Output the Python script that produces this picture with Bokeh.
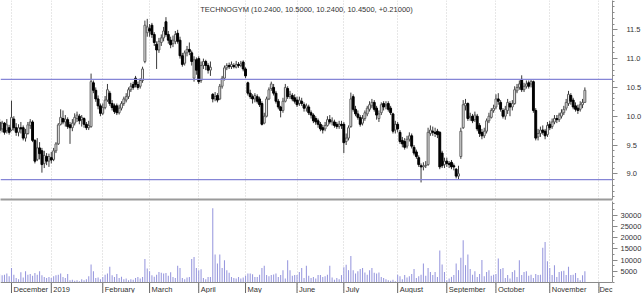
from bokeh.plotting import figure
from bokeh.layouts import column
from bokeh.models import (Range1d, FixedTicker, Span, Label, ColumnDataSource,
                          NumeralTickFormatter, LinearAxis)
from bokeh.core.properties import value
from bokeh.embed import file_html
from bokeh.resources import INLINE

# ---------------- data (trading-day index 0 = 26 Nov 2018) ----------------
title_text = "TECHNOGYM (10.2400, 10.5000, 10.2400, 10.4500, +0.21000)"

open_ = [
    9.90, 9.78, 9.88, 9.75, 9.80, 9.76, 9.95, 9.80, 9.72, 9.80,
    9.80, 9.62, 9.70, 9.84, 9.90, 9.58, 9.25, 9.45, 9.40, 9.18,
    9.30, 9.22, 9.28, 9.25, 9.40, 9.52, 9.86, 9.96, 9.90, 9.94,
    9.85, 9.80, 9.88, 9.96, 10.00, 9.94, 9.96, 9.86, 9.80, 9.82,
    10.58, 10.45, 10.30, 10.18, 10.05, 10.15, 10.28, 10.40, 10.22, 10.18,
    10.18, 10.06, 10.14, 10.22, 10.28, 10.34, 10.46, 10.55, 10.66, 10.55,
    10.52, 10.62, 10.95, 11.45, 11.52, 11.58, 11.42, 11.25, 11.15, 11.28,
    11.36, 11.64, 11.42, 11.32, 11.26, 11.30, 11.44, 11.32, 11.05, 10.92,
    11.10, 11.16, 11.10, 10.66, 10.98, 11.00, 10.62, 10.88, 10.95, 10.88,
    10.80, 10.38, 10.30, 10.36, 10.30, 10.52, 10.66, 10.84, 10.88, 10.86,
    10.88, 10.85, 10.90, 10.88, 10.94, 10.82, 10.58, 10.40, 10.34, 10.30,
    10.34, 10.30, 10.22, 9.88, 10.00, 10.30, 10.48, 10.50, 10.40, 10.26,
    10.16, 10.10, 10.26, 10.48, 10.34, 10.36, 10.32, 10.28, 10.22, 10.26,
    10.20, 10.14, 10.16, 10.06, 10.02, 9.96, 9.92, 9.86, 9.80, 9.78,
    9.84, 9.94, 9.90, 9.90, 9.86, 9.82, 9.86, 9.86, 9.56, 9.62,
    9.82, 10.34, 10.12, 10.04, 9.98, 9.88, 9.96, 10.04, 10.12, 10.18,
    10.24, 10.14, 9.96, 10.06, 10.22, 10.18, 10.22, 10.14, 10.04, 9.76,
    9.86, 9.72, 9.58, 9.56, 9.48, 9.60, 9.66, 9.46, 9.38, 9.28,
    9.14, 9.12, 9.14, 9.16, 9.70, 9.74, 9.72, 9.74, 9.72, 9.36,
    9.16, 9.22, 9.18, 9.20, 9.14, 9.08, 8.96, 9.30, 9.80, 10.18,
    10.22, 9.98, 10.00, 9.94, 10.00, 9.84, 9.72, 9.66, 9.74, 9.92,
    9.98, 10.10, 10.16, 10.30, 10.24, 10.10, 10.00, 10.10, 10.22, 10.16,
    10.22, 10.44, 10.50, 10.64, 10.46, 10.52, 10.58, 10.56, 10.60, 10.10,
    9.64, 9.70, 9.76, 9.74, 9.68, 9.86, 9.82, 9.90, 9.96, 9.94,
    10.00, 10.06, 10.14, 10.22, 10.36, 10.28, 10.18, 10.14, 10.12, 10.20, 10.24,
]
high = [
    9.95, 9.92, 9.90, 9.95, 9.85, 10.27, 10.00, 9.88, 9.86, 9.90,
    9.84, 9.78, 9.90, 9.95, 9.93, 9.60, 9.62, 9.55, 9.45, 9.40,
    9.36, 9.35, 9.38, 9.45, 9.55, 9.88, 10.12, 10.10, 10.02, 9.98,
    9.90, 9.95, 10.05, 10.08, 10.04, 10.02, 9.98, 9.90, 9.92, 10.74,
    10.62, 10.50, 10.36, 10.22, 10.22, 10.35, 10.56, 10.44, 10.28, 10.22,
    10.22, 10.20, 10.26, 10.34, 10.40, 10.50, 10.58, 10.60, 10.70, 10.60,
    10.66, 10.86, 11.66, 11.69, 11.60, 11.62, 11.46, 11.30, 11.36, 11.42,
    11.55, 11.72, 11.48, 11.38, 11.40, 11.48, 11.50, 11.38, 11.10, 11.14,
    11.22, 11.28, 11.14, 11.04, 11.02, 11.04, 10.95, 11.00, 10.98, 10.92,
    10.95, 10.40, 10.42, 10.40, 10.56, 10.70, 10.88, 10.92, 10.93, 10.95,
    10.92, 10.96, 10.94, 10.96, 10.97, 10.85, 10.60, 10.46, 10.38, 10.40,
    10.38, 10.34, 10.26, 10.06, 10.34, 10.50, 10.60, 10.56, 10.44, 10.30,
    10.18, 10.32, 10.56, 10.52, 10.44, 10.40, 10.38, 10.34, 10.34, 10.32,
    10.24, 10.22, 10.20, 10.10, 10.05, 10.00, 9.96, 9.90, 9.85, 9.90,
    10.00, 10.02, 9.98, 9.94, 9.90, 9.92, 9.92, 9.90, 9.70, 9.84,
    10.41, 10.38, 10.18, 10.10, 10.02, 10.02, 10.10, 10.18, 10.26, 10.30,
    10.28, 10.18, 10.10, 10.24, 10.26, 10.26, 10.26, 10.18, 10.06, 9.92,
    9.90, 9.76, 9.64, 9.62, 9.66, 9.72, 9.70, 9.50, 9.42, 9.32,
    9.18, 9.20, 9.22, 9.80, 9.84, 9.82, 9.80, 9.78, 9.74, 9.40,
    9.28, 9.28, 9.22, 9.24, 9.18, 9.10, 9.14, 9.80, 10.28, 10.30,
    10.24, 10.06, 10.04, 10.08, 10.04, 9.88, 9.78, 9.80, 9.96, 10.06,
    10.14, 10.20, 10.38, 10.40, 10.28, 10.14, 10.18, 10.30, 10.26, 10.28,
    10.52, 10.56, 10.62, 10.71, 10.58, 10.62, 10.62, 10.64, 10.62, 10.14,
    9.78, 9.82, 9.84, 9.78, 9.90, 9.92, 9.96, 10.02, 10.02, 10.06,
    10.12, 10.18, 10.30, 10.44, 10.40, 10.32, 10.24, 10.20, 10.26, 10.30, 10.50,
]
low = [
    9.70, 9.72, 9.68, 9.70, 9.68, 9.74, 9.75, 9.66, 9.65, 9.70,
    9.58, 9.56, 9.68, 9.78, 9.55, 9.18, 9.22, 9.25, 9.02, 9.10,
    9.15, 9.12, 9.18, 9.22, 9.36, 9.50, 9.84, 9.86, 9.82, 9.78,
    9.52, 9.74, 9.84, 9.90, 9.86, 9.82, 9.80, 9.76, 9.76, 9.80,
    10.40, 10.25, 10.12, 10.00, 10.02, 10.12, 10.25, 10.18, 10.10, 10.04,
    10.02, 10.03, 10.10, 10.18, 10.24, 10.30, 10.42, 10.46, 10.50, 10.46,
    10.48, 10.58, 10.92, 11.38, 11.38, 11.36, 11.22, 10.82, 11.10, 11.22,
    11.30, 11.38, 11.26, 11.18, 11.20, 11.25, 11.26, 11.00, 10.86, 10.88,
    11.04, 11.06, 10.88, 10.60, 10.72, 10.56, 10.58, 10.82, 10.80, 10.74,
    10.70, 10.24, 10.26, 10.24, 10.28, 10.48, 10.62, 10.80, 10.82, 10.82,
    10.83, 10.83, 10.84, 10.85, 10.78, 10.66, 10.36, 10.30, 10.22, 10.24,
    10.22, 10.16, 9.84, 9.86, 9.98, 10.28, 10.44, 10.36, 10.22, 10.12,
    9.98, 10.06, 10.24, 10.30, 10.30, 10.26, 10.22, 10.16, 10.18, 10.18,
    10.08, 10.08, 10.02, 9.96, 9.88, 9.85, 9.80, 9.74, 9.70, 9.74,
    9.82, 9.86, 9.84, 9.80, 9.78, 9.78, 9.78, 9.36, 9.50, 9.58,
    9.80, 10.08, 10.00, 9.94, 9.82, 9.84, 9.92, 10.00, 10.08, 10.14,
    10.08, 9.94, 9.90, 10.02, 10.10, 10.12, 10.08, 10.02, 9.70, 9.70,
    9.72, 9.52, 9.46, 9.42, 9.44, 9.56, 9.44, 9.32, 9.26, 9.12,
    8.85, 9.06, 9.10, 9.14, 9.66, 9.66, 9.64, 9.62, 9.08, 9.10,
    9.10, 9.12, 9.10, 9.08, 9.06, 8.92, 8.90, 9.26, 9.78, 10.10,
    9.92, 9.92, 9.88, 9.90, 9.74, 9.64, 9.60, 9.62, 9.70, 9.88,
    9.96, 10.06, 10.12, 10.20, 10.08, 9.96, 9.94, 10.04, 10.00, 10.10,
    10.20, 10.40, 10.46, 10.42, 10.42, 10.48, 10.48, 10.50, 10.06, 9.58,
    9.58, 9.64, 9.68, 9.60, 9.64, 9.76, 9.78, 9.86, 9.88, 9.90,
    9.96, 10.02, 10.10, 10.18, 10.20, 10.12, 10.08, 10.04, 10.08, 10.14, 10.24,
]
close_ = [
    9.75, 9.88, 9.72, 9.85, 9.72, 9.98, 9.80, 9.72, 9.80, 9.78,
    9.62, 9.70, 9.85, 9.90, 9.58, 9.22, 9.45, 9.35, 9.16, 9.32,
    9.22, 9.30, 9.24, 9.40, 9.52, 9.85, 9.98, 9.90, 9.95, 9.82,
    9.80, 9.88, 9.98, 10.02, 9.92, 9.98, 9.86, 9.80, 9.84, 10.60,
    10.45, 10.30, 10.18, 10.05, 10.15, 10.28, 10.46, 10.22, 10.15, 10.08,
    10.06, 10.14, 10.22, 10.30, 10.34, 10.46, 10.52, 10.50, 10.55, 10.50,
    10.62, 10.82, 11.58, 11.55, 11.48, 11.42, 11.28, 11.15, 11.30, 11.36,
    11.48, 11.42, 11.32, 11.24, 11.32, 11.42, 11.30, 11.05, 10.90, 11.10,
    11.16, 11.12, 10.95, 10.98, 10.80, 10.60, 10.88, 10.95, 10.88, 10.80,
    10.85, 10.30, 10.34, 10.28, 10.52, 10.66, 10.84, 10.88, 10.86, 10.90,
    10.86, 10.90, 10.88, 10.91, 10.82, 10.70, 10.40, 10.34, 10.30, 10.36,
    10.26, 10.20, 9.86, 10.00, 10.30, 10.46, 10.56, 10.40, 10.26, 10.16,
    10.10, 10.26, 10.50, 10.34, 10.38, 10.30, 10.26, 10.20, 10.28, 10.22,
    10.14, 10.18, 10.06, 10.02, 9.92, 9.90, 9.86, 9.78, 9.76, 9.84,
    9.94, 9.90, 9.92, 9.84, 9.82, 9.86, 9.84, 9.54, 9.62, 9.80,
    10.30, 10.12, 10.04, 9.98, 9.86, 9.96, 10.06, 10.14, 10.20, 10.24,
    10.12, 10.02, 10.04, 10.20, 10.16, 10.20, 10.12, 10.06, 9.74, 9.86,
    9.78, 9.56, 9.52, 9.46, 9.60, 9.66, 9.48, 9.36, 9.30, 9.16,
    9.12, 9.14, 9.15, 9.72, 9.76, 9.72, 9.70, 9.68, 9.12, 9.14,
    9.22, 9.18, 9.16, 9.12, 9.12, 8.96, 9.00, 9.74, 10.20, 10.22,
    9.96, 10.00, 9.92, 10.02, 9.78, 9.70, 9.66, 9.74, 9.92, 10.00,
    10.10, 10.14, 10.30, 10.26, 10.12, 10.00, 10.12, 10.24, 10.16, 10.22,
    10.46, 10.50, 10.56, 10.46, 10.52, 10.56, 10.52, 10.60, 10.10, 9.62,
    9.70, 9.76, 9.72, 9.66, 9.84, 9.80, 9.90, 9.96, 9.94, 10.02,
    10.06, 10.12, 10.24, 10.38, 10.26, 10.16, 10.12, 10.10, 10.20, 10.24, 10.45,
]
# volume in axis units (x100 shares)
volume = [
    3800, 3200, 3500, 4000, 2800, 6500, 3500, 2000, 1500, 4600,
    2200, 5000, 3500, 3800, 3000, 4200, 3500, 5000, 3200, 2500,
    2000, 2400, 2000, 2800, 3200, 3500, 4000, 2500, 2000, 3800,
    1000, 1200, 800, 1000, 600, 1500, 1000, 1400, 2800, 8000,
    5000, 2000, 2200, 1500, 2500, 3500, 4000, 7000, 3200, 2400,
    3800, 2000, 2600, 1400, 1800, 1000, 1500, 1200, 2000, 2500,
    1800, 2500, 10400, 6200, 5000, 3200, 2600, 3500, 4700, 4300,
    4000, 4200, 3000, 4600, 2500, 2000, 7400, 6500, 2000, 1500,
    2200, 2500, 10400, 11300, 6500, 5500, 5900, 2000, 1500, 2500,
    2500, 33000, 12400, 8400, 12400, 6500, 9900, 5500, 4300, 2500,
    2000, 1800, 2400, 1800, 2200, 3000, 4000, 4000, 3700, 2500,
    2500, 3500, 6500, 7400, 3300, 2800, 3300, 3600, 4000, 2500,
    3300, 5500, 1800, 9900, 5500, 3000, 3300, 3300, 4700, 6500,
    2000, 7400, 3000, 2000, 2500, 1800, 3300, 3300, 2500, 2800,
    3500, 7400, 2200, 1200, 2000, 1500, 3300, 6800, 7900, 5500,
    11800, 5500, 4000, 5000, 6000, 6500, 4500, 3500, 5500, 6500,
    4300, 4000, 4500, 2500, 2000, 1500, 1000, 800, 1200, 600,
    3500, 2800, 1500, 3300, 2200, 2800, 3800, 6000, 2000, 2800,
    3500, 8400, 3000, 6500, 4700, 3300, 4700, 2500, 14200, 8000,
    4700, 1000, 1800, 2500, 3300, 8400, 5500, 11000, 18800, 7700,
    12500, 6000, 3500, 5000, 2500, 3800, 10000, 2800, 4700, 5500,
    3000, 3500, 3800, 10700, 6000, 6500, 2000, 3300, 1800, 4700,
    5500, 2500, 9900, 3300, 4700, 5000, 3000, 3500, 2000, 3800,
    3300, 3500, 15500, 18000, 9500, 6500, 3300, 7700, 2500, 4700,
    5000, 5200, 3300, 7000, 3300, 3500, 4200, 2000, 1000, 3200, 5000,
]
resistance = 10.64
support = 8.90

# first trading day of each month (trading-day index) and axis labels
month_starts = [5, 22, 44, 64, 85, 105, 127, 147, 170, 191, 212, 235, 256]
month_labels = ["December", "2019", "February", "March", "April", "May", "June",
                "July", "August", "September", "October", "November", "Dec"]
price_ticks = [9.0, 9.5, 10.0, 10.5, 11.0, 11.5]
volume_ticks = [5000, 10000, 15000, 20000, 25000, 30000]
volume_unit = "[x100]"

# ---------------- styling ----------------
FONT = "Liberation Sans"
TXT = "#333333"
AX = "#8a8a8a"
GRID = "#cfcfcf"
LINE_BLUE = "#8585d6"
VOL_COL = "#9898de"

n = len(close_)
idx = list(range(n))
inc = [i for i in idx if close_[i] >= open_[i]]
dec = [i for i in idx if close_[i] < open_[i]]

wick_src = ColumnDataSource(dict(x=idx, hi=high, lo=low))
inc_src = ColumnDataSource(dict(x=inc, top=[close_[i] for i in inc], bot=[open_[i] for i in inc]))
dec_src = ColumnDataSource(dict(x=dec, top=[open_[i] for i in dec], bot=[close_[i] for i in dec]))
vol_src = ColumnDataSource(dict(x=idx, v=volume))

x_range = Range1d(0.3, 261.8)
p_lo, p_hi = 8.554, 12.009

# ---------------- price panel ----------------
pa = figure(frame_width=612, frame_height=199, x_range=x_range,
            y_range=Range1d(p_lo, p_hi), title=None,
            output_backend="svg", toolbar_location=None,
            y_axis_location="right",
            min_border_left=0, min_border_top=0, min_border_right=31,
            min_border_bottom=2)
pa.outline_line_color = None
pa.background_fill_color = "white"
pa.border_fill_color = "white"

pa.xgrid.ticker = FixedTicker(ticks=month_starts)
pa.xgrid.grid_line_color = GRID
pa.xgrid.grid_line_dash = "1 2"
pa.ygrid.grid_line_color = None

# separator line between panels (bottom axis without ticks/labels)
xa = pa.xaxis[0]
xa.ticker = FixedTicker(ticks=[])
xa.major_tick_out = 0
xa.major_tick_in = 0
xa.minor_tick_out = 0
xa.minor_tick_in = 0
xa.major_label_standoff = 0
xa.axis_line_color = "#9a9a9a"
xa.axis_line_width = 2

ya = pa.yaxis[0]
ya.ticker = FixedTicker(ticks=price_ticks,
                        minor_ticks=[round(8.6 + 0.1 * k, 1) for k in range(35)])
ya.formatter = NumeralTickFormatter(format="0.0")
ya.axis_line_color = AX
ya.major_tick_line_color = AX
ya.minor_tick_line_color = AX
ya.major_tick_out = 5
ya.major_tick_in = 0
ya.minor_tick_out = 2
ya.minor_tick_in = 0
ya.major_label_standoff = 9
ya.major_label_text_font = FONT
ya.major_label_text_font_size = "7.5px"
ya.major_label_text_color = TXT

pa.add_layout(Span(location=resistance, dimension="width", line_color=LINE_BLUE, line_width=1.2))
pa.add_layout(Span(location=support, dimension="width", line_color=LINE_BLUE, line_width=1.2))

pa.segment(x0="x", y0="lo", x1="x", y1="hi", source=wick_src, line_color="#3a3a3a", line_width=1)
pa.vbar(x="x", top="top", bottom="bot", width=0.8, source=inc_src,
        fill_color="white", line_color="#5a5a5a", line_width=1)
pa.vbar(x="x", top="top", bottom="bot", width=0.8, source=dec_src,
        fill_color="black", line_color="black", line_width=1)

pa.add_layout(Label(x=(x_range.start + x_range.end) / 2, y=p_hi - 9.3 / 57.6,
                    text=title_text, text_align="center", text_baseline="alphabetic",
                    text_font=FONT, text_font_size="7.5px", text_color=TXT))

# ---------------- volume panel (frame includes the month-label strip) ----------------
v_hi = 36000
vol_px = 81                     # pixel height of the volume area
strip_px = 11                   # pixel height of month-label strip below it
units_per_px = v_hi / vol_px
v_lo = -strip_px * units_per_px

pb = figure(frame_width=612, frame_height=vol_px + strip_px, x_range=x_range,
            y_range=Range1d(v_lo, v_hi), title=None,
            output_backend="svg", toolbar_location=None,
            y_axis_location="right", x_axis_location=None,
            min_border_left=0, min_border_top=0, min_border_right=31,
            min_border_bottom=0)
pb.outline_line_color = None
pb.background_fill_color = "white"
pb.border_fill_color = "white"

pb.xgrid.ticker = FixedTicker(ticks=month_starts)
pb.xgrid.grid_line_color = GRID
pb.xgrid.grid_line_dash = "1 2"
pb.ygrid.grid_line_color = None

yb = pb.yaxis[0]
yb.bounds = (0, v_hi)
yb.ticker = FixedTicker(ticks=volume_ticks,
                        minor_ticks=[2500 * k for k in range(15)])
yb.formatter = NumeralTickFormatter(format="0")
yb.axis_line_color = AX
yb.major_tick_line_color = AX
yb.minor_tick_line_color = AX
yb.major_tick_out = 5
yb.major_tick_in = 0
yb.minor_tick_out = 2
yb.minor_tick_in = 0
yb.major_label_standoff = 3
yb.major_label_text_font = FONT
yb.major_label_text_font_size = "7.5px"
yb.major_label_text_color = TXT

# small "[x100]" unit note next to the volume axis
unit_pos = 2900
ua = LinearAxis(fixed_location=x_range.end,
                ticker=FixedTicker(ticks=[unit_pos]),
                major_label_overrides={unit_pos: volume_unit})
ua.axis_line_color = None
ua.major_tick_line_color = None
ua.minor_tick_line_color = None
ua.major_tick_out = 0
ua.major_tick_in = 0
ua.major_label_standoff = 1
ua.major_label_text_font = FONT
ua.major_label_text_font_size = "5.5px"
ua.major_label_text_color = TXT
pb.add_layout(ua, "right")

# bottom axis line, month ticks and labels
pb.add_layout(Span(location=0, dimension="width", line_color=AX, line_width=1))
pb.segment(x0=month_starts, y0=[0] * len(month_starts), x1=month_starts,
           y1=[v_lo] * len(month_starts), line_color="#666666", line_width=1)

pb.vbar(x="x", top="v", bottom=0, width=0.45, source=vol_src,
        fill_color=VOL_COL, line_color=None)

label_src = ColumnDataSource(dict(
    x=month_starts, y=[-6.6 * units_per_px] * len(month_starts), t=month_labels,
    dx=[2] * (len(month_starts) - 1) + [0.5]))
pb.text(x="x", y="y", text="t", x_offset="dx", source=label_src,
        text_align="left", text_baseline="alphabetic",
        text_font=value(FONT), text_font_size="7.5px", text_color=TXT)

layout = column(pa, pb, spacing=0)
open("out.html", "w").write(file_html(layout, INLINE))
